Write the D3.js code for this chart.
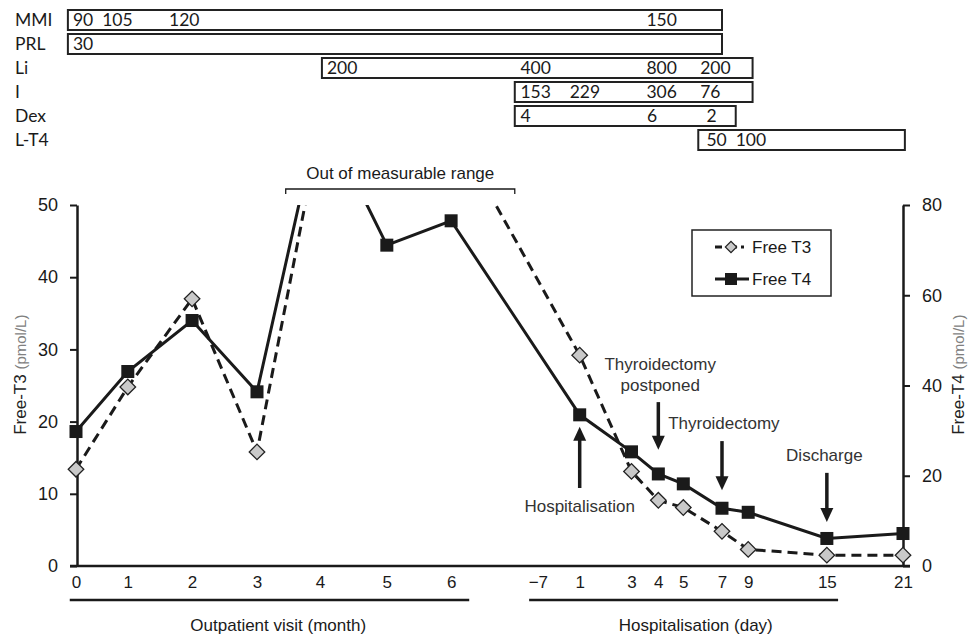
<!DOCTYPE html>
<html>
<head>
<meta charset="utf-8">
<script src="https://cdn.jsdelivr.net/npm/d3@7"></script>
<style>
body{margin:0;background:#fff}
text{font-family:"Liberation Sans",Arial,sans-serif;fill:#1a1a1a}
.drug text{font-family:Lato,"Open Sans",sans-serif}
</style>
</head>
<body>
<div id="chart"></div>
<script>
// timeline: outpatient months then hospital days (position on the shared x axis)
const outLabels = ["0","1","2","3","4","5","6"];
const outPos = [0, 0.83, 1.86, 2.90, 3.91, 4.98, 6.01];
const hospLabels = ["\u22127","1","3","4","5","7","9","15","21"];
const hospPos = [7.40, 8.07, 8.90, 9.33, 9.73, 10.35, 10.77, 12.03, 13.25];

// Free T3 (left axis, pmol/L), values above 50 are out of the measurable range
const freeT3Out = [13.4, 24.8, 37.0, 15.8, 60.7, 62, 61.1];
const freeT3Hosp = [null, 29.2, 13.1, 9.1, 8.1, 4.8, 2.3, 1.5, 1.5];
// Free T4 (right axis, pmol/L)
const freeT4Out = [29.8, 43.1, 54.4, 38.6, 101, 71.1, 76.5];
const freeT4Hosp = [null, 33.5, 25.3, 20.4, 18.2, 12.8, 11.9, 6.1, 7.2];

// drugs bars on top
const drugNames = ["MMI","PRL","Li","I","Dex","L-T4"];
const drugStart = [-0.13, -0.13, 3.94, 7.03, 7.03, 9.97];
const drugEnd = [10.35, 10.35, 10.84, 10.84, 10.57, 13.28];
const drugDoses = [["90","105","120","150"],["30"],["200","400","800","200"],["153","229","306","76"],["4","6","2"],["50","100"]];
const drugDoseAt = [[-0.05,0.42,1.49,9.14],[-0.05],[4.02,7.12,9.14,10.0],[7.12,7.91,9.14,10.0],[7.12,9.15,10.1],[10.1,10.57]];

// annotations (x in timeline units, y in Free T3 units)
const notes = [
  {lines:["Hospitalisation"], tx:8.07, ty:[8.3], ax:8.07, from:10.8, to:19.3},
  {lines:["Thyroidectomy","postponed"], tx:9.36, ty:[28.0,25.1], ax:9.33, from:22.7, to:16.1},
  {lines:["Thyroidectomy"], tx:10.38, ty:[19.8], ax:10.35, from:17.3, to:10.5},
  {lines:["Discharge"], tx:11.99, ty:[15.4], ax:12.03, from:12.9, to:6.1}
];

const w = 968, h = 634;
const svg = d3.select("#chart").append("svg").attr("width", w).attr("height", h);

const x = d3.scaleLinear().domain([0, 13.25]).range([76, 903]);
const yL = d3.scaleLinear().domain([0, 50]).range([566, 205]);
const yR = d3.scaleLinear().domain([0, 80]).range([566, 205]);
const ink = "#1a1a1a";

// drug rows
const drug = svg.append("g").attr("class", "drug");
drugNames.forEach((name, i) => {
  const y0 = 10 + i * 24;
  drug.append("text").attr("x", 15).attr("y", y0 + 10).attr("dy", "0.36em")
    .style("font-size", "17.5px").text(name);
  drug.append("rect").attr("x", x(drugStart[i])).attr("y", y0)
    .attr("width", x(drugEnd[i]) - x(drugStart[i])).attr("height", 20)
    .attr("fill", "none").attr("stroke", "#222").attr("stroke-width", 2);
  drugDoses[i].forEach((d, j) => {
    drug.append("text").attr("x", x(drugDoseAt[i][j])).attr("y", y0 + 10).attr("dy", "0.36em")
      .style("font-size", "17.5px").text(d);
  });
});

// out of range bracket
const br = [3.36, 7.03];
svg.append("path")
  .attr("d", `M${x(br[0])},194V189H${x(br[1])}V194`)
  .attr("fill", "none").attr("stroke", ink).attr("stroke-width", 1.3);
svg.append("text").attr("x", x((br[0] + br[1]) / 2)).attr("y", 179)
  .attr("text-anchor", "middle").style("font-size", "17px").text("Out of measurable range");

// axes
const axL = svg.append("g").attr("transform", "translate(77,0)")
  .call(d3.axisLeft(yL).tickValues([0,10,20,30,40,50]).tickSize(7).tickSizeOuter(0).tickPadding(12));
const axR = svg.append("g").attr("transform", "translate(903,0)")
  .call(d3.axisRight(yR).tickValues([0,20,40,60,80]).tickSize(7).tickSizeOuter(0).tickPadding(12));
[axL, axR].forEach(a => {
  a.select(".domain").attr("stroke", ink).attr("stroke-width", 2.5);
  a.selectAll(".tick line").attr("stroke", ink).attr("stroke-width", 2);
  a.selectAll(".tick text").style("font-size", "18px").attr("fill", ink);
});

const allPos = outPos.concat(hospPos);
const allLabels = outLabels.concat(hospLabels);
const axX = svg.append("g").attr("transform", "translate(0,566)")
  .call(d3.axisBottom(x).tickValues(allPos).tickFormat((d, i) => allLabels[i]).tickSize(0).tickPadding(10));
axX.select(".domain").remove();
axX.selectAll(".tick text").style("font-size", "17px").attr("fill", ink);
svg.append("line").attr("x1", 70).attr("x2", 910).attr("y1", 566).attr("y2", 566)
  .attr("stroke", ink).attr("stroke-width", 2.5);

// axis titles
[["Free-T3 ", 20], ["Free-T4 ", 958]].forEach(([t, tx]) => {
  const tt = svg.append("text").attr("transform", `translate(${tx},${yL(26.5)}) rotate(-90)`)
    .attr("text-anchor", "middle").attr("dy", "0.36em");
  tt.append("tspan").style("font-size", "17px").style("fill", "#222").text(t);
  tt.append("tspan").style("font-size", "15px").style("fill", "#808080").text("(pmol/L)");
});

// period lines under x axis
svg.append("line").attr("x1", x(-0.1)).attr("x2", x(6.3)).attr("y1", 600).attr("y2", 600)
  .attr("stroke", ink).attr("stroke-width", 2.5);
svg.append("line").attr("x1", x(7.26)).attr("x2", x(12.21)).attr("y1", 600).attr("y2", 600)
  .attr("stroke", ink).attr("stroke-width", 2.5);
svg.append("text").attr("x", x(3.24)).attr("y", 631).attr("text-anchor", "middle")
  .style("font-size", "17px").text("Outpatient visit (month)");
svg.append("text").attr("x", x(9.93)).attr("y", 631).attr("text-anchor", "middle")
  .style("font-size", "17px").text("Hospitalisation (day)");

// series
const t3 = allPos.map((p, i) => ({p, v: freeT3Out.concat(freeT3Hosp)[i]})).filter(d => d.v != null);
const t4 = allPos.map((p, i) => ({p, v: freeT4Out.concat(freeT4Hosp)[i]})).filter(d => d.v != null);

svg.append("clipPath").attr("id", "plot").append("rect")
  .attr("x", 60).attr("y", 205).attr("width", 870).attr("height", 380);
const plot = svg.append("g").attr("clip-path", "url(#plot)");

plot.append("path").datum(t3)
  .attr("d", d3.line().x(d => x(d.p)).y(d => yL(d.v)))
  .attr("fill", "none").attr("stroke", ink).attr("stroke-width", 3)
  .attr("stroke-dasharray", "10,6");
plot.append("path").datum(t4)
  .attr("d", d3.line().x(d => x(d.p)).y(d => yR(d.v)))
  .attr("fill", "none").attr("stroke", ink).attr("stroke-width", 3);

plot.selectAll(".dia").data(t3.filter(d => d.v <= 50)).enter().append("path")
  .attr("class", "dia")
  .attr("transform", d => `translate(${x(d.p)},${yL(d.v)}) rotate(45)`)
  .attr("d", "M-5.5,-5.5H5.5V5.5H-5.5Z")
  .attr("fill", "#c9c9c9").attr("stroke", "#222").attr("stroke-width", 1.3);
plot.selectAll(".sq").data(t4.filter(d => d.v <= 80)).enter().append("rect")
  .attr("class", "sq")
  .attr("x", d => x(d.p) - 6.5).attr("y", d => yR(d.v) - 6.5)
  .attr("width", 13).attr("height", 13).attr("fill", ink);

// annotations with arrows
notes.forEach(n => {
  n.lines.forEach((l, i) => {
    svg.append("text").attr("x", x(n.tx)).attr("y", yL(n.ty[i])).attr("dy", "0.36em")
      .attr("text-anchor", "middle").style("font-size", "17px").style("fill", "#333").text(l);
  });
  const ax = x(n.ax), y1 = yL(n.from), y2 = yL(n.to);
  const dir = y2 > y1 ? 1 : -1;
  svg.append("line").attr("x1", ax).attr("x2", ax).attr("y1", y1).attr("y2", y2 - dir * 12)
    .attr("stroke", ink).attr("stroke-width", 3.5);
  svg.append("path")
    .attr("d", `M${ax - 6.5},${y2 - dir * 14}L${ax + 6.5},${y2 - dir * 14}L${ax},${y2}Z`)
    .attr("fill", ink);
});

// legend
const lg = svg.append("g");
lg.append("rect").attr("x", 692).attr("y", 230).attr("width", 139).attr("height", 66)
  .attr("fill", "#fff").attr("stroke", "#222").attr("stroke-width", 1.5);
const lgRows = [{name:"Free T3", y:247}, {name:"Free T4", y:279}];
lgRows.forEach((r, i) => {
  lg.append("line").attr("x1", 715).attr("x2", 749).attr("y1", r.y).attr("y2", r.y)
    .attr("stroke", ink).attr("stroke-width", 3)
    .attr("stroke-dasharray", i === 0 ? "7,12,3,4,3" : null);
  if (i === 0) {
    lg.append("path").attr("transform", `translate(731,${r.y}) rotate(45)`)
      .attr("d", "M-4,-4H4V4H-4Z").attr("fill", "#c9c9c9").attr("stroke", "#222").attr("stroke-width", 1.2);
  } else {
    lg.append("rect").attr("x", 725).attr("y", r.y - 6).attr("width", 12).attr("height", 12).attr("fill", ink);
  }
  lg.append("text").attr("x", 752).attr("y", r.y).attr("dy", "0.36em")
    .style("font-size", "17px").text(r.name);
});
</script>
</body>
</html>
